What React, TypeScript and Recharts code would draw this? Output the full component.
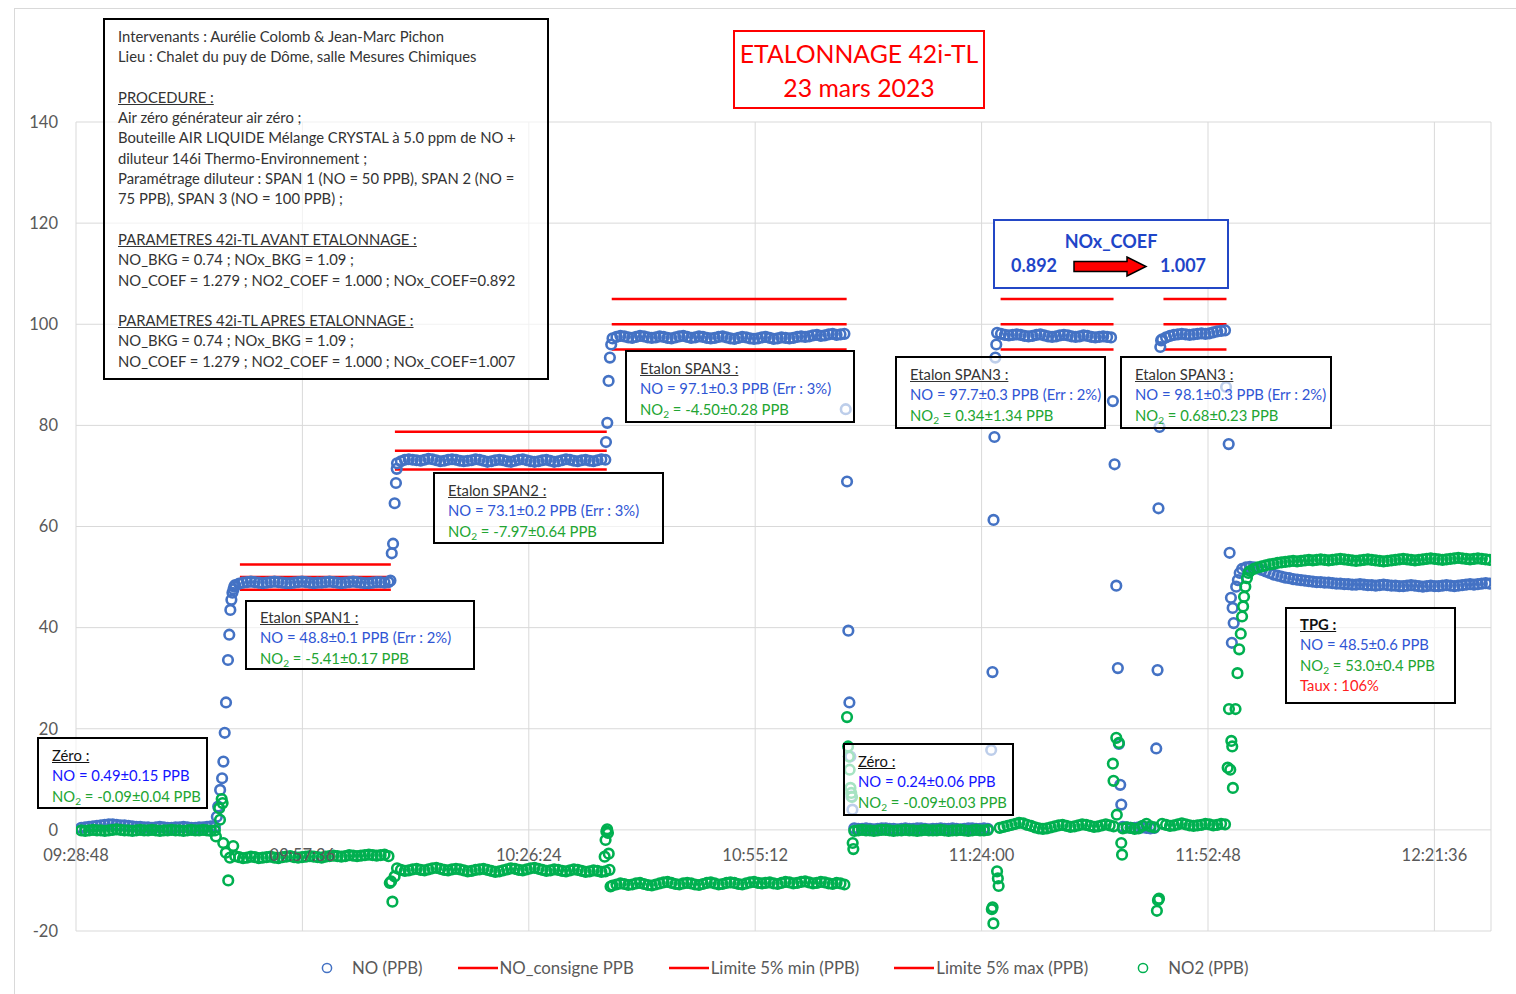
import React from 'react';
import { ComposedChart, Scatter, Line, XAxis, YAxis, CartesianGrid } from 'recharts';

// time axis: seconds after 09:28:48 (Excel 0.395 .. 0.52, major unit 0.02 day)
const T0 = 9 * 3600 + 28 * 60 + 48;
const X_END = 10800;
const X_TICKS = [0, 1728, 3456, 5184, 6912, 8640, 10368];
const Y_MIN = -20;
const Y_MAX = 140;
const Y_TICKS = [-20, 0, 20, 40, 60, 80, 100, 120, 140];
const STEP = 30; // s between samples on the plateaus

// ---- NO (PPB), plateaus (values every STEP seconds)
const noZero1 = [0.4, 0.5, 0.6, 0.7, 0.8, 0.9, 1.0, 1.1, 1.1, 1.0, 0.9, 0.9, 0.8, 0.7, 0.6, 0.6, 0.5, 0.5, 0.4, 0.5, 0.6, 0.5, 0.4, 0.4, 0.5, 0.5, 0.6, 0.5, 0.4, 0.4, 0.5, 0.5, 0.6, 0.7, 0.6];
const noSpan1 = [48.4, 48.7, 48.9, 49.0, 49.1, 49.0, 48.9, 48.8, 48.9, 49.0, 49.1, 49.0, 48.9, 48.8, 48.8, 48.9, 49.0, 49.1, 49.0, 48.9, 48.8, 48.9, 48.9, 49.0, 49.1, 49.0, 48.9, 48.8, 48.9, 49.0, 49.1, 49.0, 48.9, 48.8, 48.8, 48.9, 49.0, 49.0, 48.9, 49.0];
const noSpan2 = [72.5, 72.9, 73.2, 73.3, 73.2, 73.1, 73.0, 73.2, 73.4, 73.3, 73.1, 72.9, 73.0, 73.2, 73.3, 73.2, 73.0, 72.9, 73.0, 73.1, 73.3, 73.2, 73.0, 72.8, 72.9, 73.1, 73.2, 73.1, 72.9, 72.8, 73.0, 73.2, 73.3, 73.1, 72.9, 72.8, 72.9, 73.1, 73.2, 73.0, 72.8, 72.9, 73.1, 73.3, 73.2, 73.0, 72.9, 73.1, 73.2, 73.0, 72.9, 73.1, 73.3, 73.2];
const noSpan3a = [97.2, 97.5, 97.7, 97.6, 97.4, 97.3, 97.5, 97.7, 97.6, 97.4, 97.3, 97.4, 97.6, 97.5, 97.3, 97.2, 97.4, 97.6, 97.7, 97.5, 97.3, 97.4, 97.6, 97.5, 97.3, 97.2, 97.3, 97.5, 97.6, 97.4, 97.2, 97.1, 97.3, 97.5, 97.4, 97.2, 97.1, 97.2, 97.4, 97.5, 97.3, 97.1, 97.2, 97.4, 97.3, 97.2, 97.3, 97.5, 97.6, 97.5, 97.6, 97.8, 97.9, 97.7, 97.8, 98.0, 98.1, 97.9, 98.0, 98.1];
const noZero2 = [0.3, 0.2, 0.2, 0.3, 0.2, 0.1, 0.2, 0.3, 0.3, 0.2, 0.2, 0.1, 0.2, 0.3, 0.2, 0.2, 0.3, 0.3, 0.2, 0.1, 0.2, 0.2, 0.3, 0.2, 0.2, 0.3, 0.2, 0.1, 0.2, 0.3, 0.3, 0.2, 0.2, 0.3, 0.2];
const noSpan3b = [98.3, 98.1, 97.9, 97.8, 97.9, 98.0, 97.9, 97.7, 97.6, 97.7, 97.9, 98.0, 97.8, 97.6, 97.5, 97.6, 97.8, 97.9, 97.8, 97.6, 97.5, 97.6, 97.8, 97.7, 97.5, 97.4, 97.5, 97.6, 97.5, 97.4];
const noZero3 = [0.6, 0.5, 0.4, 0.4, 0.5, 0.5, 0.4, 0.3, 0.4];
const noSpan3c = [97.0, 97.4, 97.7, 97.9, 98.0, 98.1, 98.0, 97.9, 98.0, 98.1, 98.2, 98.1, 98.2, 98.4, 98.6, 98.7, 98.8];
const noTpg = [51.6, 51.9, 52.0, 51.9, 51.7, 51.4, 51.1, 50.8, 50.5, 50.3, 50.1, 49.9, 49.8, 49.6, 49.5, 49.4, 49.3, 49.2, 49.1, 49.0, 49.0, 48.9, 48.9, 48.8, 48.7, 48.7, 48.6, 48.6, 48.5, 48.5, 48.6, 48.5, 48.4, 48.4, 48.3, 48.4, 48.5, 48.4, 48.3, 48.3, 48.2, 48.2, 48.3, 48.4, 48.3, 48.2, 48.1, 48.2, 48.3, 48.2, 48.2, 48.3, 48.4, 48.3, 48.2, 48.3, 48.4, 48.5, 48.6, 48.5, 48.6, 48.7, 48.8, 48.7];

// NO transitions [t, value]
const noSteps = [
  [1075, 2.6], [1085, 4.6], [1100, 7.9], [1115, 10.2], [1125, 13.5], [1135, 19.2], [1145, 25.2], [1160, 33.6], [1170, 38.6], [1178, 43.5], [1186, 45.5], [1194, 46.9], [1202, 47.6], [1208, 48.1],
  [2400, 49.3], [2410, 54.7], [2420, 56.6], [2432, 64.6], [2442, 68.6], [2448, 71.4],
  [4045, 76.7], [4055, 80.5], [4065, 88.8], [4075, 93.4], [4085, 96.0],
  [5875, 83.2], [5885, 68.9], [5895, 39.4], [5903, 25.2], [5910, 14.5], [5918, 6.6], [5926, 4.0],
  [6985, 15.8], [6995, 31.2], [7003, 61.3], [7010, 77.7], [7017, 93.4], [7024, 96.0],
  [7914, 84.8], [7927, 72.3], [7940, 48.3], [7952, 32.0], [7960, 17.0], [7970, 8.9], [7978, 5.0],
  [8245, 16.1], [8255, 31.6], [8262, 63.6], [8270, 79.7], [8276, 95.5], [8282, 96.8],
  [8778, 87.6], [8798, 76.3], [8805, 54.8], [8815, 45.9], [8822, 37.0], [8828, 43.9], [8836, 40.9], [8855, 48.1], [8868, 49.4], [8882, 50.8],
];

// ---- NO2 (PPB)
const no2Zero1 = [-0.1, -0.2, -0.1, 0.0, -0.1, -0.1, -0.2, -0.1, 0.0, 0.1, 0.0, -0.1, -0.1, -0.2, -0.1, 0.0, -0.1, -0.1, 0.0, -0.1, -0.2, -0.1, -0.1, 0.0, -0.1, -0.1, -0.2, -0.1, 0.0, -0.1, -0.1, 0.0, -0.1, -0.2, -0.1];
const no2Span1 = [-5.2, -5.4, -5.6, -5.5, -5.3, -5.4, -5.6, -5.5, -5.4, -5.3, -5.5, -5.6, -5.4, -5.3, -5.2, -5.4, -5.5, -5.4, -5.3, -5.2, -5.3, -5.4, -5.5, -5.3, -5.2, -5.1, -5.2, -5.3, -5.2, -5.0, -5.1, -5.2, -5.1, -5.0, -4.9, -5.0, -5.1, -5.0, -4.9, -5.2];
const no2Span2 = [-7.6, -7.9, -8.1, -8.0, -7.8, -7.7, -7.9, -8.0, -7.8, -7.6, -7.5, -7.7, -7.9, -8.0, -7.8, -7.7, -7.8, -8.0, -8.2, -8.1, -7.9, -7.8, -7.7, -7.9, -8.1, -8.3, -8.2, -8.0, -7.8, -7.6, -7.7, -7.9, -8.0, -7.8, -7.6, -7.5, -7.7, -7.9, -8.1, -8.0, -7.8, -7.9, -8.1, -8.2, -8.0, -7.8, -7.9, -8.1, -8.3, -8.2, -8.0, -8.1, -8.3, -8.2];
const no2Span3a = [-11.0, -10.8, -10.6, -10.7, -10.9, -10.8, -10.6, -10.5, -10.7, -10.9, -11.0, -10.8, -10.6, -10.4, -10.3, -10.5, -10.7, -10.8, -10.6, -10.5, -10.6, -10.8, -10.9, -10.7, -10.5, -10.4, -10.6, -10.8, -10.7, -10.5, -10.4, -10.5, -10.7, -10.8, -10.6, -10.4, -10.3, -10.5, -10.6, -10.5, -10.4, -10.6, -10.7, -10.5, -10.3, -10.4, -10.6, -10.5, -10.3, -10.2, -10.4, -10.6, -10.5, -10.3, -10.4, -10.6, -10.7, -10.5, -10.6, -10.8];
const no2Zero2 = [-0.2, -0.1, 0.0, -0.1, -0.1, -0.2, -0.1, 0.0, 0.0, -0.1, -0.2, -0.1, -0.1, 0.0, -0.1, -0.1, -0.2, -0.1, 0.0, -0.1, -0.1, -0.1, 0.0, -0.1, -0.2, -0.1, -0.1, 0.0, -0.1, -0.2, -0.1, 0.0, -0.1, -0.1, 0.0];
const no2Span3b = [0.4, 0.6, 0.8, 1.0, 1.2, 1.4, 1.3, 1.0, 0.8, 0.5, 0.3, 0.2, 0.3, 0.5, 0.7, 0.9, 1.0, 0.8, 0.6, 0.7, 0.9, 1.1, 1.0, 0.8, 0.6, 0.7, 0.9, 1.1, 0.9, 0.7];
const no2Zero3 = [0.3, 0.5, 0.4, 0.2, 0.3, 0.8, 1.2, 0.7, 0.5];
const no2Span3c = [1.2, 1.0, 0.8, 0.9, 1.1, 1.3, 1.1, 0.9, 0.8, 0.9, 1.0, 1.2, 1.1, 0.9, 1.0, 1.2, 1.1];
const no2Tpg = [51.2, 51.6, 51.9, 52.1, 52.3, 52.5, 52.6, 52.8, 52.9, 53.0, 53.1, 53.2, 53.1, 53.2, 53.3, 53.4, 53.3, 53.4, 53.5, 53.4, 53.3, 53.4, 53.5, 53.6, 53.5, 53.4, 53.3, 53.2, 53.3, 53.4, 53.5, 53.4, 53.3, 53.2, 53.1, 53.2, 53.3, 53.4, 53.5, 53.6, 53.5, 53.4, 53.3, 53.4, 53.5, 53.6, 53.7, 53.6, 53.5, 53.4, 53.5, 53.6, 53.7, 53.8, 53.7, 53.6, 53.5, 53.6, 53.7, 53.6, 53.5, 53.4];

const no2Steps = [
  [1068, -1.3], [1093, 4.3], [1099, 2.0], [1112, 6.1], [1119, 5.3], [1124, -2.6], [1144, -4.5], [1162, -10.0], [1175, -5.5], [1200, -3.2],
  [2395, -10.5], [2405, -10.2], [2415, -14.2], [2432, -9.2],
  [4035, -5.3], [4042, -2.0], [4048, -0.3], [4054, 0.1], [4060, -0.6], [4066, -4.7], [4072, -7.9], [4080, -11.2],
  [5885, 22.3], [5893, 16.5], [5899, 14.5], [5905, 11.9], [5911, 8.3], [5917, 7.3], [5923, 6.5], [5928, -2.6], [5933, -3.8],
  [6990, -15.7], [6996, -15.3], [7002, -18.5], [7030, -8.2], [7036, -9.6], [7042, -11.1],
  [7914, 13.1], [7919, 9.7], [7940, 18.2], [7944, 3.0], [7960, 17.2], [7978, -2.6], [7984, -4.9],
  [8250, -16.0], [8258, -13.9], [8266, -13.6],
  [8790, 12.3], [8800, 23.9], [8810, 11.9], [8818, 17.6], [8825, 16.5], [8830, 8.3], [8850, 23.9], [8865, 31.0], [8878, 35.7], [8890, 38.8], [8900, 42.2], [8908, 44.2], [8915, 46.1], [8925, 48.1], [8937, 49.8], [8948, 50.8],
];

// start time of each plateau
const noSegments: [number, number[]][] = [
  [40, noZero1], [1215, noSpan1], [2450, noSpan2], [4095, noSpan3a], [5940, noZero2],
  [7030, noSpan3b], [7990, noZero3], [8290, noSpan3c], [8900, noTpg],
];
const no2Segments: [number, number[]][] = [
  [40, no2Zero1], [1215, no2Span1], [2450, no2Span2], [4095, no2Span3a], [5940, no2Zero2],
  [7050, no2Span3b], [7990, no2Zero3], [8290, no2Span3c], [8960, no2Tpg],
];

// calibration spans: consigne and +-5% limits
const spanStart = [1251, 2434, 4089, 7057, 8300];
const spanEnd = [2403, 4051, 5882, 7919, 8781];
const spanConsigne = [50, 75, 100, 100, 100];

const toPoints = (segs: [number, number[]][], steps: number[][]) => [
  ...segs.flatMap(([start, vals]) => vals.map((v, i) => ({ t: start + i * STEP, v }))),
  ...steps.map(([t, v]) => ({ t, v })),
];
const noData = toPoints(noSegments, noSteps);
const no2Data = toPoints(no2Segments, no2Steps);

const spanLine = (k: number) =>
  spanStart.flatMap((s, i) => [
    { t: s, v: spanConsigne[i] * k },
    { t: spanEnd[i], v: spanConsigne[i] * k },
    { t: spanEnd[i] + 1, v: null },
  ]);
const consigneData = spanLine(1);
const minData = spanLine(0.95);
const maxData = spanLine(1.05);

const FONT = 'Lato, "Liberation Sans", sans-serif';
const NO_BLUE = '#4472C4';
const NO2_GREEN = '#00B050';
const RED = '#FF0000';
const GREY = '#595959';
const TXT_BLUE = '#2F55D4';
const ZERO_BLUE = '#1414FF';
const TXT_GREEN = '#22A532';
const TXT_DARK = '#333333';

const W = 1516;
const H = 994;
const MARGIN = { top: 122, right: 25, bottom: 33, left: 16 };
const X_AXIS_H = 30;
const PLOT_H = H - MARGIN.top - MARGIN.bottom - X_AXIS_H;
// the time labels sit under the 0 line, not at the bottom of the plot
const ZERO_LIFT = (PLOT_H * (0 - Y_MIN)) / (Y_MAX - Y_MIN);

const clock = (s: number) => {
  const t = Math.round(T0 + s);
  const p = (n: number) => String(n).padStart(2, '0');
  return `${p(Math.floor(t / 3600))}:${p(Math.floor((t % 3600) / 60))}:${p(t % 60)}`;
};

const TimeTick = (props: any) => {
  const { x, y, payload } = props;
  return (
    <text x={x} y={y - ZERO_LIFT + 29} textAnchor="middle" fill={GREY} fontSize={16.5} fontFamily={FONT}>
      {clock(payload.value)}
    </text>
  );
};

const ring = (color: string) => (props: any) => (
  <circle cx={props.cx} cy={props.cy} r={4.8} fill="none" stroke={color} strokeWidth={2.6} />
);

const Sub = () => (
  <span style={{ fontSize: '0.68em', position: 'relative', top: '0.3em' }}>2</span>
);

type NoteLine = { text: React.ReactNode; color?: string; underline?: boolean; bold?: boolean };

function NoteBox({ left, top, width, height, lines, padTop = 5, padLeft = 13, fontSize = 14.8, lineH = 20.4 }: {
  left: number; top: number; width: number; height: number; lines: NoteLine[];
  padTop?: number; padLeft?: number; fontSize?: number; lineH?: number;
}) {
  return (
    <div style={{
      position: 'absolute', left, top, width, height, boxSizing: 'border-box',
      border: '2px solid #000', background: 'rgba(255,255,255,0.65)',
      padding: `${padTop}px 0 0 ${padLeft}px`, fontFamily: FONT, fontSize,
      lineHeight: `${lineH}px`, whiteSpace: 'nowrap',
    }}>
      {lines.map((l, i) => (
        <div key={i} style={{
          height: lineH, color: l.color || TXT_DARK,
          textDecoration: l.underline ? 'underline' : 'none', fontWeight: l.bold ? 700 : 400,
        }}>{l.text}</div>
      ))}
    </div>
  );
}

const etalon = (title: string, no: string, no2: string): NoteLine[] => [
  { text: title, underline: true },
  { text: `NO = ${no}`, color: TXT_BLUE },
  { text: <>NO<Sub /> = {no2}</>, color: TXT_GREEN },
];
const zero = (no: string, no2: string): NoteLine[] => [
  { text: 'Zéro :', underline: true, color: '#111' },
  { text: `NO =  ${no}`, color: ZERO_BLUE },
  { text: <>NO<Sub /> = {no2}</>, color: TXT_GREEN },
];

const infoLines: NoteLine[] = [
  { text: 'Intervenants : Aurélie Colomb & Jean-Marc Pichon' },
  { text: 'Lieu : Chalet du puy de Dôme, salle Mesures Chimiques' },
  { text: '' },
  { text: 'PROCEDURE :', underline: true },
  { text: 'Air zéro générateur air zéro ;' },
  { text: 'Bouteille AIR LIQUIDE Mélange CRYSTAL à 5.0 ppm de NO +' },
  { text: 'diluteur 146i Thermo-Environnement ;' },
  { text: 'Paramétrage diluteur : SPAN 1 (NO = 50 PPB), SPAN 2 (NO =' },
  { text: '75 PPB), SPAN 3 (NO = 100 PPB) ;' },
  { text: '' },
  { text: 'PARAMETRES 42i-TL AVANT ETALONNAGE :', underline: true },
  { text: 'NO_BKG = 0.74 ; NOx_BKG = 1.09 ;' },
  { text: 'NO_COEF = 1.279 ; NO2_COEF = 1.000 ; NOx_COEF=0.892' },
  { text: '' },
  { text: 'PARAMETRES 42i-TL APRES ETALONNAGE :', underline: true },
  { text: 'NO_BKG = 0.74 ; NOx_BKG = 1.09 ;' },
  { text: 'NO_COEF = 1.279 ; NO2_COEF = 1.000 ; NOx_COEF=1.007' },
];

const legendItems = [
  { label: 'NO (PPB)', kind: 'dot', color: NO_BLUE },
  { label: 'NO_consigne PPB', kind: 'line', color: RED },
  { label: 'Limite 5% min (PPB)', kind: 'line', color: RED },
  { label: 'Limite 5% max (PPB)', kind: 'line', color: RED },
  { label: 'NO2 (PPB)', kind: 'dot', color: NO2_GREEN },
];

export default function App() {
  const COEF_BLUE = '#1F45C8';
  return (
    <div style={{ position: 'absolute', left: 0, top: 0, width: W, height: H, background: '#fff', overflow: 'hidden', fontFamily: FONT }}>
      <div style={{ position: 'absolute', left: 14, top: 8, width: W, height: H, border: '1px solid #d9d9d9', boxSizing: 'border-box' }} />
      <ComposedChart width={W} height={H} margin={MARGIN}>
        <CartesianGrid stroke="#d9d9d9" strokeWidth={1} />
        <XAxis type="number" dataKey="t" domain={[0, X_END]} ticks={X_TICKS} allowDataOverflow
          axisLine={false} tickLine={false} tickSize={0} height={X_AXIS_H} interval={0} tick={<TimeTick />} />
        <YAxis type="number" dataKey="v" domain={[Y_MIN, Y_MAX]} ticks={Y_TICKS} allowDataOverflow
          axisLine={false} tickLine={false} tickSize={0} tickMargin={18} width={60} interval={0}
          tick={{ fill: GREY, fontSize: 16.5, fontFamily: FONT }} />
        <Scatter name="NO (PPB)" data={noData} dataKey="v" shape={ring(NO_BLUE)} isAnimationActive={false} />
        <Line name="NO_consigne PPB" data={consigneData} dataKey="v" stroke={RED} strokeWidth={2.5} dot={false} activeDot={false} isAnimationActive={false} />
        <Line name="Limite 5% min (PPB)" data={minData} dataKey="v" stroke={RED} strokeWidth={2.5} dot={false} activeDot={false} isAnimationActive={false} />
        <Line name="Limite 5% max (PPB)" data={maxData} dataKey="v" stroke={RED} strokeWidth={2.5} dot={false} activeDot={false} isAnimationActive={false} />
        <Scatter name="NO2 (PPB)" data={no2Data} dataKey="v" shape={ring(NO2_GREEN)} isAnimationActive={false} />
      </ComposedChart>

      {/* legend */}
      <div style={{ position: 'absolute', left: 307, top: 958, display: 'flex', alignItems: 'center', fontSize: 16.8, color: GREY, whiteSpace: 'nowrap' }}>
        {legendItems.map((it, i) => (
          <div key={i} style={{ display: 'flex', alignItems: 'center', marginRight: 35 }}>
            <svg width={40} height={20}>
              {it.kind === 'dot'
                ? <circle cx={20} cy={10} r={4.6} fill="none" stroke={it.color} strokeWidth={1.5} />
                : <line x1={0} x2={40} y1={10} y2={10} stroke={it.color} strokeWidth={2.5} />}
            </svg>
            <span style={{ marginLeft: it.kind === 'dot' ? 5 : 2, lineHeight: '20px' }}>{it.label}</span>
          </div>
        ))}
      </div>

      {/* title */}
      <div style={{ position: 'absolute', left: 733, top: 30, width: 252, height: 79, boxSizing: 'border-box', border: '2px solid #FF0000', paddingTop: 5, textAlign: 'center', color: RED, fontSize: 24.8, lineHeight: '34px', background: '#fff', whiteSpace: 'nowrap' }}>
        <div>ETALONNAGE 42i-TL</div>
        <div>23 mars 2023</div>
      </div>

      <NoteBox left={103} top={18} width={446} height={362} padTop={6} lines={infoLines} lineH={20.3} />

      {/* NOx_COEF change */}
      <div style={{ position: 'absolute', left: 993, top: 219, width: 236, height: 70, boxSizing: 'border-box', border: '2px solid #2347C6', background: '#fff', color: COEF_BLUE, fontWeight: 700, fontSize: 18, lineHeight: '20px' }}>
        <div style={{ position: 'absolute', left: 0, right: 0, top: 10, textAlign: 'center' }}>NOx_COEF</div>
        <div style={{ position: 'absolute', left: 16, top: 34 }}>0.892</div>
        <svg style={{ position: 'absolute', left: 78, top: 35 }} width={76} height={22}>
          <polygon points="1,5.5 54,5.5 54,1 73,10.5 54,20 54,15.5 1,15.5" fill={RED} stroke="#000" strokeWidth={1.5} />
        </svg>
        <div style={{ position: 'absolute', left: 165, top: 34 }}>1.007</div>
      </div>

      <NoteBox left={37} top={737} width={171} height={72} padTop={6} lines={zero('0.49±0.15 PPB', '-0.09±0.04 PPB')} />
      <NoteBox left={245} top={600} width={230} height={70} lines={etalon('Etalon SPAN1 :', '48.8±0.1 PPB (Err : 2%)', '-5.41±0.17 PPB')} />
      <NoteBox left={433} top={472} width={231} height={72} padTop={6} lines={etalon('Etalon SPAN2 :', '73.1±0.2 PPB (Err : 3%)', '-7.97±0.64 PPB')} />
      <NoteBox left={625} top={350} width={230} height={73} padTop={6} lines={etalon('Etalon SPAN3 :', '97.1±0.3 PPB (Err : 3%)', '-4.50±0.28 PPB')} />
      <NoteBox left={895} top={356} width={211} height={73} padTop={6} lines={etalon('Etalon SPAN3 :', '97.7±0.3 PPB (Err : 2%)', '0.34±1.34 PPB')} />
      <NoteBox left={1120} top={356} width={212} height={73} padTop={6} lines={etalon('Etalon SPAN3 :', '98.1±0.3 PPB (Err : 2%)', '0.68±0.23 PPB')} />
      <NoteBox left={843} top={743} width={171} height={73} padTop={6} lines={zero('0.24±0.06 PPB', '-0.09±0.03 PPB')} />
      <NoteBox left={1285} top={607} width={171} height={97} lines={[
        { text: 'TPG :', underline: true, bold: true, color: '#111' },
        { text: 'NO = 48.5±0.6 PPB', color: TXT_BLUE },
        { text: <>NO<Sub /> = 53.0±0.4 PPB</>, color: TXT_GREEN },
        { text: 'Taux : 106%', color: '#FF2020' },
      ]} />
    </div>
  );
}
